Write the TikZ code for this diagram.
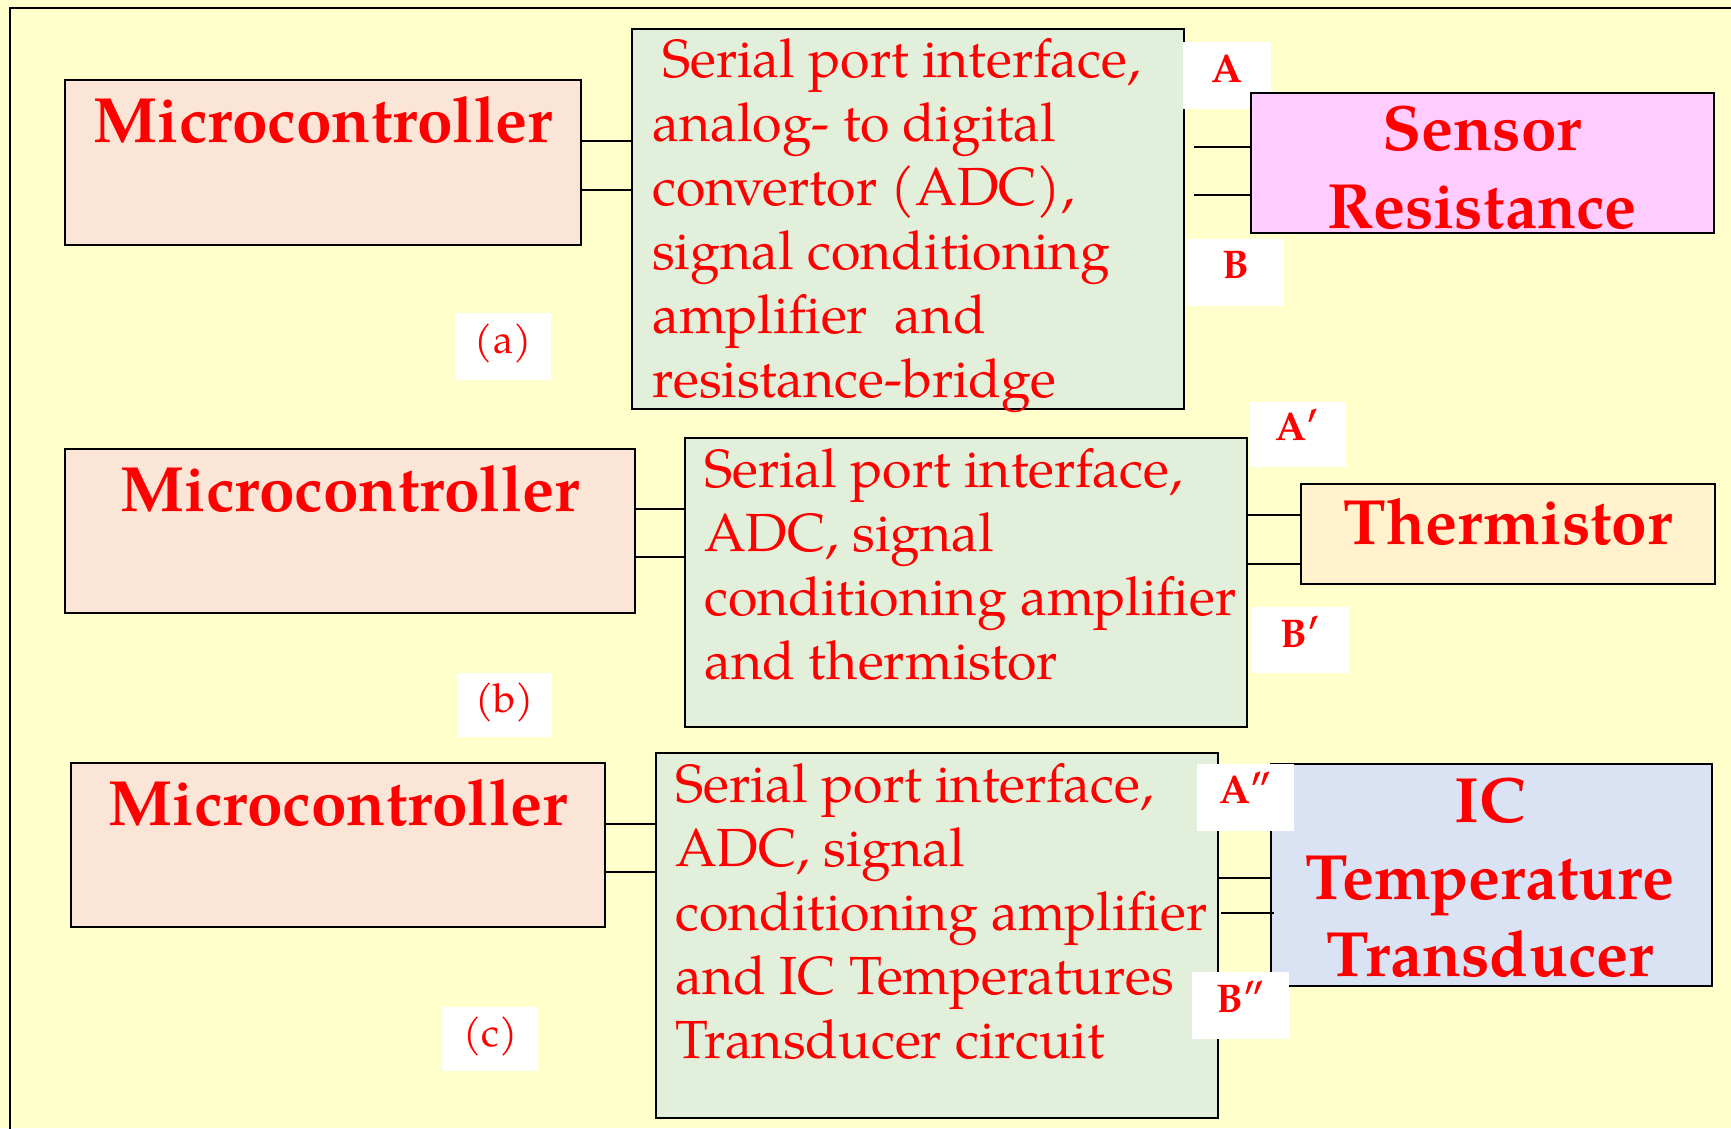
\documentclass[tikz,border=0pt]{standalone}
\usepackage{fontspec}
\setmainfont{texgyrepagella}[Extension=.otf,UprightFont=*-regular,BoldFont=*-bold,ItalicFont=*-italic,BoldItalicFont=*-bolditalic]
\definecolor{bgyellow}{HTML}{FFFFCC}
\definecolor{mcfill}{HTML}{FBE5D6}
\definecolor{gfill}{HTML}{E2EFDA}
\definecolor{srfill}{HTML}{FFCCFF}
\definecolor{thfill}{HTML}{FFF2CC}
\definecolor{icfill}{HTML}{DAE3F3}
\definecolor{txtred}{HTML}{FF0000}
\begin{document}
\begin{tikzpicture}[x=1pt,y=-1pt,
  box/.style={draw=black, line width=2pt, inner sep=0pt, anchor=north west},
  mc/.style={box, fill=mcfill, text=txtred, font=\bfseries\fontsize{64}{77}\selectfont},
  gbox/.style={box, fill=gfill},
  gtext/.style={inner sep=0pt, anchor=north west, align=left, text=txtred, font=\fontsize{53.7}{64}\selectfont},
  btext/.style={inner sep=0pt, anchor=north, align=center, text=txtred},
  wl/.style={fill=white, inner sep=0pt, anchor=north west, text=txtred, font=\bfseries\fontsize{40}{48}\selectfont},
  wp/.style={wl, font=\fontsize{40}{48}\selectfont},
  wire/.style={draw=black, line width=2pt}
]
\useasboundingbox (0,0) rectangle (1731,1128);
\clip (0,0) rectangle (1731,1128);
\fill[bgyellow] (0,0) rectangle (1731,1128);
\draw[line width=2pt] (9.5,7.5) rectangle (1800,1200);

% helper heights
\coordinate (ya1) at (0,141);
\coordinate (ya2) at (0,190);
\coordinate (yb1) at (0,509);
\coordinate (yb2) at (0,557);
\coordinate (yb3) at (0,515);
\coordinate (yb4) at (0,564);
\coordinate (yc1) at (0,824);
\coordinate (yc2) at (0,872);
\coordinate (yc3) at (0,878);

% ---------------- (a)
\node[mc, minimum width=516pt, text height=62pt, text depth=103pt] (mca) at (64,79) {Microcontroller};
\node[gbox, minimum width=552pt, minimum height=380pt] (ga) at (631,28) {};
\node[gtext] (gat) at (652,32.2) {\strut\hspace*{10pt}Serial port interface,\\analog- to digital\\convertor (ADC),\\signal conditioning\\amplifier~ and\\resistance-bridge};
\draw[wire] (mca.east |- ya1) -- (ga.west |- ya1);
\draw[wire] (mca.east |- ya2) -- (ga.west |- ya2);
\node[wp, minimum width=96pt, text height=40pt, text depth=27pt] (laba) at (455,313) {(a)};
\node[wl, minimum width=88pt, text height=40pt, text depth=27pt] (la) at (1183,42) {A};
\node[wl, minimum width=97pt, text height=39pt, text depth=28pt] (lb) at (1187,239) {B};
\node[box, fill=srfill, minimum width=463pt, minimum height=140pt] (sr) at (1250,92) {};
\node[btext, font=\bfseries\fontsize{64}{78}\selectfont] (srt) at (1482,95.4) {\strut Sensor\\Resistance};
\coordinate (sa1) at (1194,147);
\coordinate (sa2) at (1194,195);
\draw[wire] (sa1) -- (sa1 -| sr.west);
\draw[wire] (sa2) -- (sa2 -| sr.west);

% ---------------- (b)
\node[mc, minimum width=570pt, text height=62pt, text depth=102pt] (mcb) at (64,448) {Microcontroller};
\node[gbox, minimum width=562pt, minimum height=289pt] (gb) at (684,437) {};
\node[gtext] (gbt) at (704,442.2) {\strut Serial port interface,\\ADC, signal\\conditioning amplifier\\and thermistor};
\draw[wire] (mcb.east |- yb1) -- (gb.west |- yb1);
\draw[wire] (mcb.east |- yb2) -- (gb.west |- yb2);
\node[wp, minimum width=95pt, text height=39pt, text depth=25pt] (labb) at (457,673) {(b)};
\node[wl, minimum width=97pt, text height=38pt, text depth=27pt] (lap) at (1249,402) {A′};
\node[wl, minimum width=97pt, text height=40pt, text depth=26pt] (lbp) at (1252,607) {B′};
\node[mc, fill=thfill, minimum width=414pt, text height=60pt, text depth=40pt] (th) at (1300,483) {Thermistor};
\draw[wire] (gb.east |- yb3) -- (th.west |- yb3);
\draw[wire] (gb.east |- yb4) -- (th.west |- yb4);

% ---------------- (c)
\node[mc, minimum width=534pt, text height=62pt, text depth=102pt] (mcc) at (70,762) {Microcontroller};
\node[gbox, minimum width=562pt, minimum height=365pt] (gc) at (655,752) {};
\node[gtext] (gct) at (675,757.2) {\strut Serial port interface,\\ADC, signal\\conditioning amplifier\\and IC Temperatures\\Transducer circuit};
\draw[wire] (mcc.east |- yc1) -- (gc.west |- yc1);
\draw[wire] (mcc.east |- yc2) -- (gc.west |- yc2);
\node[wp, minimum width=96pt, text height=39pt, text depth=25pt] (labc) at (442,1007) {(c)};
\node[box, fill=icfill, minimum width=441pt, minimum height=222pt] (ic) at (1270,763) {};
\node[btext, font=\bfseries\fontsize{64}{77}\selectfont] (ict) at (1490,768.1) {\strut IC\\Temperature\\Transducer};
\draw[wire] (gc.east |- yc3) -- (ic.west |- yc3);
\coordinate (ic2a) at (1221,913);
\coordinate (ic2b) at (1274,913);
\draw[wire] (ic2a) -- (ic2b);
\node[wl, minimum width=97pt, text height=39pt, text depth=28pt] (lapp) at (1197,764) {A″};
\node[wl, minimum width=97pt, text height=40pt, text depth=27pt] (lbpp) at (1192,972) {B″};
\end{tikzpicture}
\end{document}
